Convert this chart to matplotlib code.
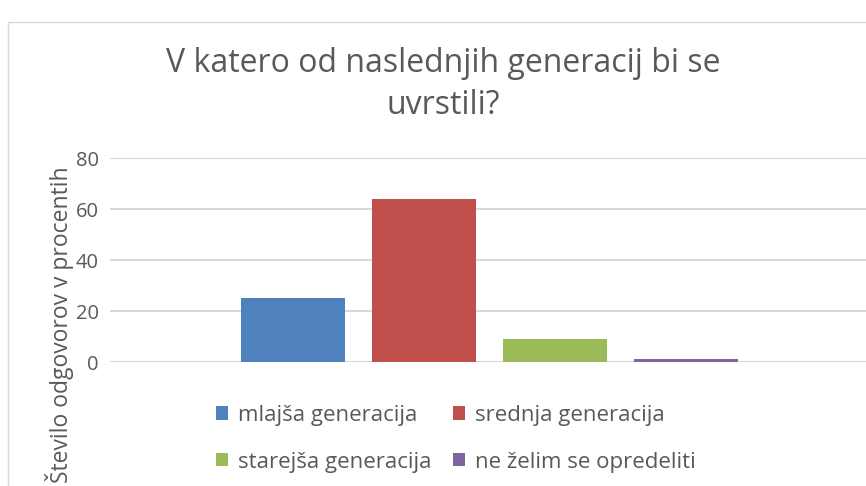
import numpy as np
import matplotlib.pyplot as plt

plt.rcParams['font.family'] = ['Open Sans', 'DejaVu Sans']

categories = ['mlajša generacija', 'srednja generacija',
              'starejša generacija', 'ne želim se opredeliti']
values = [25, 64, 9, 1]
colors = ['#4F81BD', '#C0504D', '#9BBB59', '#8064A2']
yticks = [0, 20, 40, 60, 80]

W, H = 866, 486
fig = plt.figure(figsize=(W/100, H/100), dpi=100)

# chart border (cropped at right and bottom)
fig.add_artist(plt.Rectangle((8/W, -0.1), 1.2, 1.1 - 22/H, transform=fig.transFigure,
                             fill=False, ec='#D9D9D9', lw=1))

# plot area in pixels: x 110..869, y 158..362
ax = fig.add_axes([110/W, 1 - 362/H, 759/W, 204/H])

x = np.arange(len(values))
bars = ax.bar(x, values, width=104/131, color=colors, zorder=3)
half = 759/131/2
ax.set_xlim(1.5 - half, 1.5 + half)
ax.set_ylim(0, 80)
ax.set_yticks(yticks)
ax.set_xticks([])
ax.yaxis.grid(True, color='#D9D9D9', lw=1.5)
for s in ax.spines.values():
    s.set_visible(False)
ax.tick_params(axis='y', length=0, pad=8, labelsize=14.5, labelcolor='#595959')

cx = 0.5 * (163 + 724) / W
fig.text(cx, 1 - 63/H, 'V katero od naslednjih generacij bi se',
         ha='center', va='center', fontsize=23, color='#595959')
fig.text(cx, 1 - 105/H, 'uvrstili?',
         ha='center', va='center', fontsize=23, color='#595959')

# axis title runs past the bottom edge, as in the reference
fig.text(60/W, 1 - 166/H, 'Število odgovorov v procentih', rotation=90,
         ha='center', va='top', fontsize=16.5, color='#595959')

# legend is filled row by row
order = [0, 2, 1, 3]
leg = fig.legend([bars[i] for i in order], [categories[i] for i in order],
                 ncol=2, loc='upper left',
                 bbox_to_anchor=(216/W, 1 - 405/H), frameon=False,
                 fontsize=16, labelcolor='#595959', handlelength=0.55,
                 handleheight=0.55, handletextpad=0.45, columnspacing=0.95,
                 labelspacing=1.15, borderaxespad=0, borderpad=0)

fig.savefig('out.png', dpi=100)
